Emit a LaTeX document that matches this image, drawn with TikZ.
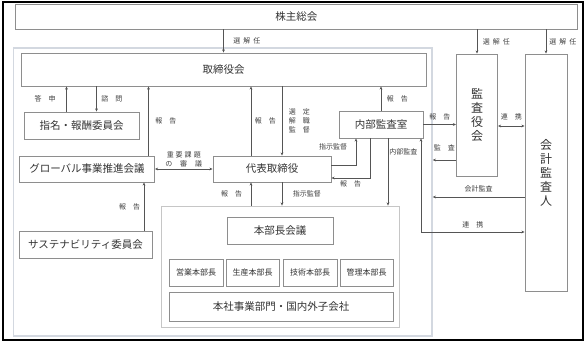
\documentclass[tikz,border=0pt]{standalone}
\usepackage{fontspec}
\setmainfont{Noto Sans CJK JP}
\usetikzlibrary{arrows.meta}
\definecolor{boxline}{HTML}{8E8E8E}
\definecolor{frameline}{HTML}{D3D8E0}
\definecolor{subframe}{HTML}{C6C6C6}
\definecolor{arrline}{HTML}{555555}
\newcommand{\kgap}{\hspace{3pt}}
\begin{document}
\begin{tikzpicture}[x=1pt, y=-1pt,
		>={Stealth[length=3.2pt, width=2.8pt]},
		box/.style={draw=boxline, line width=0.9pt, fill=white, inner sep=0pt, text=black!80, font=\fontsize{10.5}{12}\selectfont},
		smallbox/.style={box, minimum height=27, font=\fontsize{8}{9}\selectfont},
		vbox/.style={box, align=center, font=\fontsize{12}{14}\selectfont},
		frame/.style={draw=frameline, line width=1.5pt, inner sep=0pt},
		lbl/.style={inner sep=0.5pt, text=black!75, font=\fontsize{7}{9}\selectfont},
		arr/.style={draw=arrline, line width=0.6pt, ->},
		dbl/.style={draw=arrline, line width=0.6pt, <->}]
		\useasboundingbox (0,0) rectangle (586,342);
		\draw[line width=1.5pt] (3,2) rectangle (583,340);

		% Company frame and division frame
		\node[frame, minimum width=418.5, minimum height=288] (kaisha) at (222.75,192) {};
		\node[frame, draw=subframe, line width=0.8pt, minimum width=238, minimum height=121] (honbu) at (280,266.5) {};

		% Boards and committees
		\node[box, minimum width=561.5, minimum height=25] (soukai) at (296.25,16.5) {株主総会};
		\node[box, minimum width=405, minimum height=33] (torishimari) at (223.5,69.5) {取締役会};
		\node[box, minimum width=115, minimum height=27] (shimei) at (81.5,125.5) {指名・報酬委員会};
		\node[box, minimum width=135, minimum height=26] (global) at (87,169) {グローバル事業推進会議};
		\node[box, minimum width=118, minimum height=26] (daihyo) at (272,169) {代表取締役};
		\node[box, minimum width=84, minimum height=27] (naibu) at (381,124.5) {内部監査室};
		\node[box, minimum width=133, minimum height=27] (sustain) at (85.5,244.5) {サステナビリティ委員会};
		\node[vbox, minimum width=41, minimum height=122] (kansayaku) at (477,115) {監\\査\\役\\会};
		\node[vbox, minimum width=42, minimum height=237] (kaikei) at (546,172.5) {会\\計\\監\\査\\人};

		% Inside the division frame
		\node[box, minimum width=106, minimum height=27] (kaigi) at (280,230.5) {本部長会議};
		\foreach \name/\txt/\xc/\bw in {eigyo/営業本部長/196/54, seisan/生産本部長/252.5/53, gijutsu/技術本部長/310/54, kanri/管理本部長/366.5/53} {
			\node[smallbox, minimum width=\bw] (\name) at (\xc,272.5) {\txt};
		}
		\node[box, minimum width=224, minimum height=29] (honsha) at (281,306.5) {本社事業部門・国内外子会社};

		% Election by the shareholders
		\draw[arr] (soukai.south -| torishimari) -- (torishimari.north) node[lbl, midway, right=9pt] {選\kgap 解\kgap 任};
		\draw[arr] (soukai.south -| kansayaku) -- (kansayaku.north) node[lbl, midway, right=5pt] {選\kgap 解\kgap 任};
		\draw[arr] (soukai.south -| kaikei) -- (kaikei.north) node[lbl, midway, right=2.5pt] {選\kgap 解\kgap 任};

		% Board of directors
		\draw[arr] ([xshift=-15]shimei.north) -- ([xshift=-15]shimei.north |- torishimari.south) node[lbl, midway, left=10pt] {答　申};
		\draw[arr] ([xshift=15]shimei.north |- torishimari.south) -- ([xshift=15]shimei.north) node[lbl, midway, right=4pt] {諮　問};
		\draw[arr] ([xshift=61.5]global.north) -- ([xshift=61.5]global.north |- torishimari.south) node[lbl, midway, right=6pt] {報　告};
		\draw[arr] ([xshift=-21]daihyo.north) -- ([xshift=-21]daihyo.north |- torishimari.south) node[lbl, midway, right=3pt] {報　告};
		\draw[arr] ([xshift=10]daihyo.north |- torishimari.south) -- ([xshift=10]daihyo.north) node[lbl, midway, right=6pt, align=center] {選　定\\解　職\\監　督};
		\draw[arr] (naibu.north) -- (naibu.north |- torishimari.south) node[lbl, midway, right=5pt] {報　告};

		% Representative director
		\draw[dbl] (global.east) -- (daihyo.west) node[lbl, midway, above=1pt, align=center] {重\hspace{2pt}要\hspace{2pt}課\hspace{2pt}題\\の\hspace{8pt}審\hspace{8pt}議};
		\draw[arr] ([xshift=58.5]sustain.north) -- ([xshift=58.5]sustain.north |- global.south) node[lbl, midway, left=3pt] {報　告};
		\draw[arr] ([yshift=4]daihyo.east) -| ([xshift=-25]naibu.south) node[lbl, pos=0.85, left=8pt] {指示監督};
		\draw[arr] ([xshift=-11]naibu.south) |- ([yshift=-9]daihyo.east) node[lbl, pos=0.75, below=2pt] {報　告};
		\draw[arr] ([xshift=10]daihyo.south) -- ([xshift=10]daihyo.south |- honbu.north) node[lbl, midway, right=10pt] {指示監督};
		\draw[arr] ([xshift=-21]daihyo.south |- honbu.north) -- ([xshift=-21]daihyo.south) node[lbl, midway, left=8pt] {報　告};

		% Internal audit and auditors
		\draw[arr] ([xshift=7]naibu.south) -- ([xshift=7]naibu.south |- honbu.north) node[lbl, pos=0.2, right=0.5pt] {内部監査};
		\draw[dbl] ([xshift=40]naibu.south) |- ([yshift=-59.5]kaikei.west) node[lbl, pos=0.75, above=3pt] {連　携};
		\draw[arr] (naibu.east) -- (naibu.east -| kansayaku.west) node[lbl, midway, above=4pt] {報　告};
		\draw[arr] ([yshift=-45]kansayaku.west) -- ([yshift=-45]kansayaku.west -| kaisha.east) node[lbl, midway, above=8pt] {監　査};
		\draw[dbl] ([yshift=-11]kansayaku.east) -- ([yshift=-11]kansayaku.east -| kaikei.west) node[lbl, midway, above=5pt] {連　携};
		\draw[arr] ([yshift=-24.5]kaikei.west) -- ([yshift=-24.5]kaikei.west -| kaisha.east) node[lbl, midway, above=4pt] {会計監査};
	\end{tikzpicture}
\end{document}
